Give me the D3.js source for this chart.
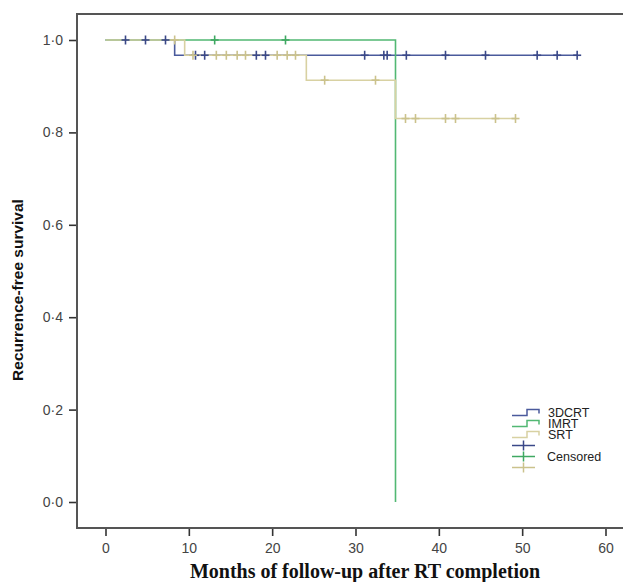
<!DOCTYPE html>
<html>
<head>
<meta charset="utf-8">
<script src="https://cdn.jsdelivr.net/npm/d3@7"></script>
<style>
  body { margin: 0; background: #fff; }
  svg { display: block; }
</style>
</head>
<body>
<div id="km_chart"></div>
<script>
// Kaplan-Meier steps: [month, survival after the event]
var crtSteps = [[0, 1], [8.3, 0.967]];
var imrtSteps = [[0, 1], [34.8, 0]];
var srtSteps = [[0, 1], [9.5, 0.967], [24.1, 0.913], [34.8, 0.83]];

// last follow-up of each curve
var crtEnd = 56.6, imrtEnd = 34.8, srtEnd = 49.2;

// censored observations (months)
var crtCensor = [2.4, 4.8, 7.2, 10.8, 11.9, 18.1, 19.2, 31.1, 33.4, 33.8, 36.1, 40.8, 45.6, 51.8, 54.2, 56.6];
var imrtCensor = [13.1, 21.6];
var srtCensor = [8.3, 10.5, 13.3, 14.5, 15.8, 16.8, 20.6, 21.8, 22.8, 26.3, 32.4, 36.0, 37.2, 40.8, 42.0, 46.8, 49.2];

var groupNames = ["3DCRT", "IMRT", "SRT"];
var xTicks = [0, 10, 20, 30, 40, 50, 60];
var yTicks = [0, 0.2, 0.4, 0.6, 0.8, 1.0];

var groups = [
  { name: groupNames[0], steps: crtSteps, end: crtEnd, censor: crtCensor, color: "#4a5a9c", mark: "#3a4888" },
  { name: groupNames[1], steps: imrtSteps, end: imrtEnd, censor: imrtCensor, color: "#52b873", mark: "#3fa862" },
  { name: groupNames[2], steps: srtSteps, end: srtEnd, censor: srtCensor, color: "#d8d1a2", mark: "#cbc28c" }
];

var W = 623, H = 582;
var frame = { left: 77, top: 14, bottom: 528 };

var svg = d3.select("#km_chart")
  .append("svg")
  .attr("width", W)
  .attr("height", H);

var x = d3.scaleLinear().domain([0, 60]).range([105.5, 605.5]);
var y = d3.scaleLinear().domain([0, 1]).range([502, 40]);

var fmt = function(d) { return d3.format(".1f")(d).replace(".", "\u00b7"); };

// Y axis
var yAxis = svg.append("g")
  .attr("transform", "translate(" + frame.left + ",0)")
  .call(d3.axisLeft(y).tickValues(yTicks).tickFormat(fmt).tickSize(8).tickPadding(6));
yAxis.select(".domain").remove();

// X axis
var xAxis = svg.append("g")
  .attr("transform", "translate(0," + frame.bottom + ")")
  .call(d3.axisBottom(x).tickValues(xTicks).tickFormat(d3.format("d")).tickSize(8).tickPadding(7));
xAxis.select(".domain").remove();

svg.selectAll(".tick line").attr("stroke", "#333").attr("stroke-width", 1.6);
svg.selectAll(".tick text")
  .attr("fill", "#444")
  .style("font-family", "Arial, 'Liberation Sans', sans-serif")
  .style("font-size", "14px");

// Frame (right side runs off the picture)
svg.append("path")
  .attr("d", "M" + (W + 5) + "," + frame.top + "H" + frame.left + "V" + frame.bottom + "H" + (W + 5))
  .attr("fill", "none")
  .attr("stroke", "#555")
  .attr("stroke-width", 2);

// survival value at time t
function survAt(steps, t) {
  var s = 1;
  steps.forEach(function(p) { if (p[0] <= t) s = p[1]; });
  return s;
}

var line = d3.line()
  .x(function(d) { return x(d[0]); })
  .y(function(d) { return y(d[1]); })
  .curve(d3.curveStepAfter);

// Curves
groups.forEach(function(g) {
  var pts = g.steps.slice();
  var last = pts[pts.length - 1];
  if (last[0] < g.end) pts.push([g.end, last[1]]);
  svg.append("path")
    .datum(pts)
    .attr("d", line)
    .attr("fill", "none")
    .attr("stroke", g.color)
    .attr("stroke-width", 1.6);
});

// Censor marks
groups.forEach(function(g) {
  var marks = svg.append("g").selectAll("g")
    .data(g.censor)
    .enter().append("g")
    .attr("transform", function(d) {
      return "translate(" + x(d) + "," + y(survAt(g.steps, d)) + ")";
    });
  marks.append("line")
    .attr("x1", -4).attr("x2", 4)
    .attr("stroke", g.mark).attr("stroke-width", 1.6);
  marks.append("line")
    .attr("y1", -4.5).attr("y2", 4.5)
    .attr("stroke", g.mark).attr("stroke-width", 1.6);
});

// Legend
var lx = 512, ly = 412.5, rowH = 11;
var legend = svg.append("g");
groups.forEach(function(g, i) {
  var cy = ly + i * rowH;
  legend.append("path")
    .attr("d", "M" + lx + "," + (cy + 3) + "H" + (lx + 15) + "V" + (cy - 3) + "H" + (lx + 27) + "V" + (cy + 1))
    .attr("fill", "none")
    .attr("stroke", g.color)
    .attr("stroke-width", 1.5);
  legend.append("text")
    .attr("x", lx + 36)
    .attr("y", cy + 4.5)
    .text(g.name);
});
groups.forEach(function(g, i) {
  var cy = ly + (i + 3) * rowH;
  legend.append("line")
    .attr("x1", lx).attr("x2", lx + 23)
    .attr("y1", cy).attr("y2", cy)
    .attr("stroke", g.mark).attr("stroke-width", 1.5);
  legend.append("line")
    .attr("x1", lx + 11.5).attr("x2", lx + 11.5)
    .attr("y1", cy - 5).attr("y2", cy + 5)
    .attr("stroke", g.mark).attr("stroke-width", 1.5);
});
legend.append("text")
  .attr("x", lx + 35)
  .attr("y", ly + 4 * rowH + 4.5)
  .text("Censored");
legend.selectAll("text")
  .attr("fill", "#222")
  .style("font-family", "Arial, 'Liberation Sans', sans-serif")
  .style("font-size", "12.5px");

// Axis titles
svg.append("text")
  .attr("transform", "translate(23,290) rotate(-90)")
  .attr("text-anchor", "middle")
  .attr("fill", "#111")
  .style("font-family", "Arial, 'Liberation Sans', sans-serif")
  .style("font-weight", "bold")
  .style("font-size", "15.5px")
  .text("Recurrence-free survival");

svg.append("text")
  .attr("x", 365)
  .attr("y", 578)
  .attr("text-anchor", "middle")
  .attr("fill", "#111")
  .style("font-family", "'Times New Roman', 'Liberation Serif', serif")
  .style("font-weight", "bold")
  .style("font-size", "20px")
  .text("Months of follow-up after RT completion");
</script>
</body>
</html>
